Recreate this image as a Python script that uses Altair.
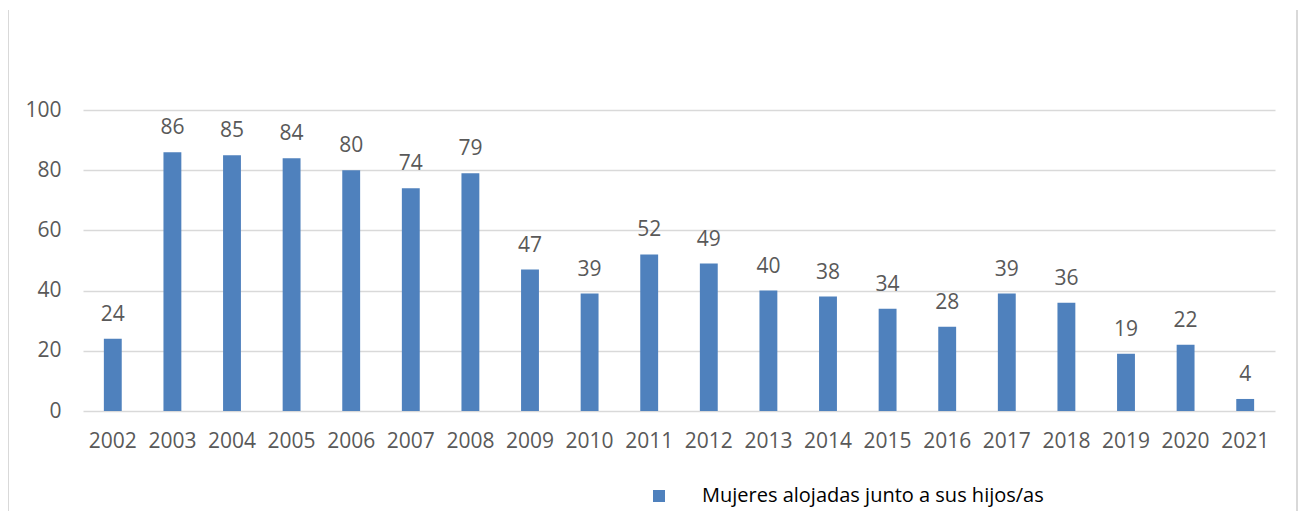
import altair as alt
import pandas as pd

years = [str(y) for y in range(2002, 2022)]
values = [24, 86, 85, 84, 80, 74, 79, 47, 39, 52, 49, 40, 38, 34, 28, 39, 36, 19, 22, 4]
series_name = "Mujeres alojadas junto a sus hijos/as"
y_ticks = [0, 20, 40, 60, 80, 100]

df = pd.DataFrame({"year": years, "value": values, "series": [series_name] * len(years)})

FONT = "Open Sans"
TXT = "#595959"
GRID = "#D9D9D9"
BAR = "#4F81BD"

x_enc = alt.X(
    "year:N",
    sort=years,
    scale=alt.Scale(paddingInner=0.7, paddingOuter=0.35),
    axis=alt.Axis(
        title=None, labelAngle=0, labelFontSize=21, labelColor=TXT, labelFont=FONT,
        ticks=False, domain=False, grid=False, labelPadding=19,
    ),
)
y_enc = alt.Y(
    "value:Q",
    scale=alt.Scale(domain=[0, 100], nice=False),
    axis=alt.Axis(
        title=None, values=y_ticks, labelFontSize=21, labelColor=TXT, labelFont=FONT,
        ticks=False, domain=False, gridColor=GRID, gridWidth=1.5, labelPadding=22,
    ),
)

bars = alt.Chart(df).mark_bar().encode(
    x=x_enc,
    y=y_enc,
    color=alt.Color(
        "series:N",
        scale=alt.Scale(range=[BAR]),
        legend=alt.Legend(
            title=None, orient="none", legendX=566, legendY=376, padding=0,
            symbolType="square", symbolSize=144, symbolStrokeWidth=0,
            labelOffset=33, labelFontSize=20, labelFont=FONT, labelColor="#000000",
            labelLimit=600,
        ),
    ),
)

labels = alt.Chart(df).mark_text(
    dy=-18, baseline="alphabetic", fontSize=21, font=FONT, color=TXT
).encode(x=alt.X("year:N", sort=years), y="value:Q", text="value:Q")

border_data = alt.Data(values=[{"k": 1}])
left_border = alt.Chart(border_data).mark_rule(color=GRID, strokeWidth=2).encode(
    x=alt.value(-75), y=alt.value(-100), y2=alt.value(420)
)
right_border = alt.Chart(border_data).mark_rule(color=GRID, strokeWidth=2).encode(
    x=alt.value(1214), y=alt.value(-100), y2=alt.value(420)
)

chart = alt.layer(bars, labels, left_border, right_border).properties(
    width=1192,
    height=301,
    autosize=alt.AutoSizeParams(type="none"),
    padding={"left": 75, "top": 102, "right": 23, "bottom": 100},
).configure_view(stroke=None)

chart.save("out.html", embed_options={"renderer": "svg", "actions": False})
